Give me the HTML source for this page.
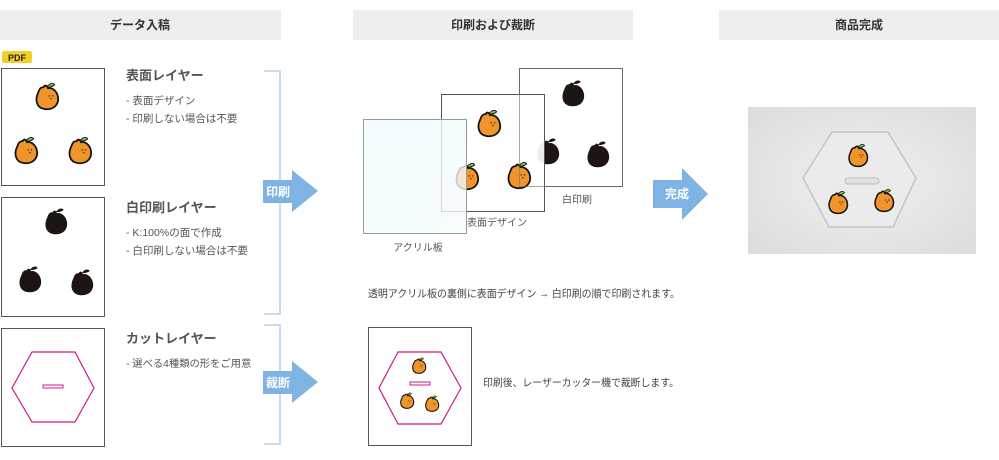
<!DOCTYPE html>
<html><head><meta charset="utf-8"><style>
body{margin:0;background:#fff;width:999px;height:455px;overflow:hidden}
svg text{font-family:"Liberation Sans","Noto Sans CJK JP",sans-serif}
</style></head><body>
<svg width="999" height="455" viewBox="0 0 999 455" xmlns="http://www.w3.org/2000/svg">
<defs>
<g id="of0">
<path d="M-8,-4 C-11,2 -10,10 -2,11 C7,12 11,6 10,0 C9,-6 4,-9 1,-8 C0,-11 -2,-11 -3,-9 C-6,-9 -7,-7 -8,-4Z" fill="#f0942c" stroke="#111" stroke-width="1.6"/>
<path d="M0,-9 C2,-13 6,-13 7,-11 C5,-9 2,-9 0,-9Z" fill="#7cc24a" stroke="#111" stroke-width="0.8"/>
<circle cx="2" cy="-1" r="0.7" fill="#5a2d0c"/><circle cx="5" cy="-1" r="0.7" fill="#5a2d0c"/><circle cx="3.5" cy="1.5" r="0.7" fill="#5a2d0c"/>
</g>
<g id="of"><g transform="scale(1.1)"><use href="#of0"/></g></g>
<g id="bf"><g transform="scale(1.1)">
<path d="M-8,-4 C-11,2 -10,10 -2,11 C7,12 11,6 10,0 C9,-6 4,-9 1,-8 C0,-11 -2,-11 -3,-9 C-6,-9 -7,-7 -8,-4Z" fill="#1d1414"/>
<path d="M0,-9 C2,-13 6,-13 7,-11 C5,-9 2,-9 0,-9Z" fill="#1d1414"/>
</g></g>
<linearGradient id="ac" x1="0" y1="0" x2="1" y2="1"><stop offset="0" stop-color="#eefafd"/><stop offset="1" stop-color="#f6fbfd"/></linearGradient>
<radialGradient id="ph" cx="0.5" cy="0.5" r="0.7"><stop offset="0" stop-color="#f0f0f0"/><stop offset="1" stop-color="#dcdcdc"/></radialGradient>
</defs>

<rect x="0" y="10" width="281" height="30" fill="#eeeeee"/>
<rect x="353" y="10" width="280" height="30" fill="#eeeeee"/>
<rect x="719" y="10" width="280" height="30" fill="#eeeeee"/>
<g font-size="12" font-weight="bold" fill="#333" text-anchor="middle">
<text x="140" y="29">データ入稿</text><text x="493" y="29">印刷および裁断</text><text x="859" y="29">商品完成</text></g>

<rect x="2" y="51" width="30" height="12" rx="2" fill="#f2d028"/>
<text x="17" y="61" font-size="9" font-weight="bold" fill="#222" text-anchor="middle">PDF</text>

<g fill="#fff" stroke="#555" stroke-width="1">
<rect x="1.5" y="68.5" width="103" height="117"/>
<rect x="1.5" y="197.5" width="103" height="119"/>
<rect x="1.5" y="328.5" width="103" height="118"/></g>
<use href="#of" x="47" y="97"/><use href="#of" x="26" y="151"/><use href="#of" x="80" y="151"/>
<use href="#bf" x="56" y="222"/><use href="#bf" x="30" y="280"/><use href="#bf" x="82" y="283"/>
<polygon points="12,388 32,352 75,352 94,388 75,422 32,422" fill="none" stroke="#d0198a" stroke-width="1.2"/>
<rect x="43" y="385" width="20" height="3" fill="#fff" stroke="#d0198a" stroke-width="1"/>

<g fill="#555">
<text x="126" y="80" font-size="13" font-weight="bold">表面レイヤー</text>
<text x="126" y="104" font-size="10.5">- 表面デザイン</text>
<text x="126" y="122" font-size="10.5">- 印刷しない場合は不要</text>
<text x="126" y="212" font-size="13" font-weight="bold">白印刷レイヤー</text>
<text x="126" y="236" font-size="10.5">- K:100%の面で作成</text>
<text x="126" y="254" font-size="10.5">- 白印刷しない場合は不要</text>
<text x="126" y="343" font-size="13" font-weight="bold">カットレイヤー</text>
<text x="126" y="367" font-size="10.3">- 選べる4種類の形をご用意</text>
</g>

<g fill="none" stroke="#c6dcf0" stroke-width="2">
<polyline points="264,71 280,71 280,314 264,314"/>
<polyline points="264,325 280,325 280,444 264,444"/></g>
<g fill="#7fb3e4">
<path d="M263,180 H292 V170 L318,191 L292,212 V203 H263Z"/>
<path d="M263,371 H292 V361 L318,382 L292,403 V394 H263Z"/>
<path d="M653,180 H682 V168 L708,194 L682,220 V208 H653Z"/></g>
<g fill="#fff" font-size="12" font-weight="bold">
<text x="266" y="196">印刷</text><text x="266" y="387">裁断</text><text x="665" y="198">完成</text></g>

<rect x="519.5" y="68.5" width="103" height="118" fill="#fff" stroke="#555"/>
<use href="#bf" x="573" y="94"/><use href="#bf" x="548" y="152"/><use href="#bf" x="598" y="155"/>
<rect x="441.5" y="94.5" width="103" height="117" fill="#fff" fill-opacity="0.92" stroke="#555"/>
<use href="#of" x="489" y="124"/><use href="#of" x="467" y="177"/><use href="#of" x="519" y="176"/>
<rect x="519.5" y="68.5" width="103" height="118" fill="none" stroke="#777" stroke-opacity="0.6"/>
<rect x="363.5" y="119.5" width="103" height="114" fill="url(#ac)" fill-opacity="0.8" stroke="#999"/>
<g fill="#555" font-size="10" text-anchor="middle">
<text x="577" y="203">白印刷</text><text x="497" y="226">表面デザイン</text><text x="418" y="251">アクリル板</text></g>
<text x="368" y="297" font-size="10.5" fill="#444" textLength="312" lengthAdjust="spacingAndGlyphs">透明アクリル板の裏側に表面デザイン → 白印刷の順で印刷されます。</text>

<rect x="368.5" y="327.5" width="103" height="118" fill="#fff" stroke="#555"/>
<polygon points="379,388 398,352 441,352 461,388 441,424 398,424" fill="none" stroke="#d0198a" stroke-width="1.2"/>
<rect x="410" y="382" width="20" height="3" fill="#fff" stroke="#d0198a"/>
<g transform="translate(419,366) scale(0.6)"><use href="#of"/></g>
<g transform="translate(407,401) scale(0.6)"><use href="#of"/></g>
<g transform="translate(432,404) scale(0.6)"><use href="#of"/></g>
<text x="483" y="386" font-size="10.5" fill="#444" textLength="196" lengthAdjust="spacingAndGlyphs">印刷後、レーザーカッター機で裁断します。</text>

<rect x="748" y="107" width="228" height="147" fill="url(#ph)"/>
<polygon points="832,132 888,132 916,178 893,227 829,227 803,178" fill="#ebebeb" stroke="#c4c4c4" stroke-width="1.5"/>
<rect x="845" y="178" width="34" height="6" rx="3" fill="#e2e2e2" stroke="#bdbdbd"/>
<g transform="translate(858,156) scale(0.85)"><use href="#of"/></g>
<g transform="translate(838,203) scale(0.85)"><use href="#of"/></g>
<g transform="translate(884,201) scale(0.85)"><use href="#of"/></g>
</svg>
</body></html>
